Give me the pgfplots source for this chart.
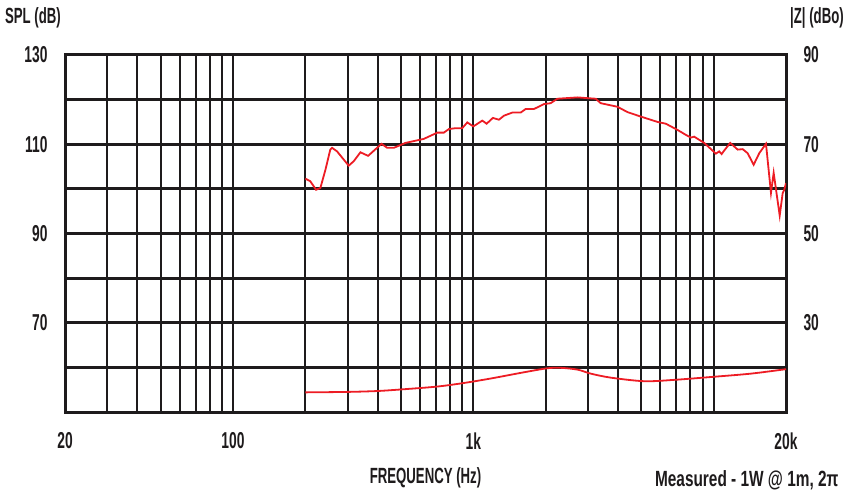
\documentclass[border=0pt]{standalone}
\usepackage{fontspec}
\setmainfont{Liberation Sans}[FakeStretch=0.6]
\usepackage{pgfplots}
\pgfplotsset{compat=1.18}
\definecolor{ink}{RGB}{30,27,28}
\definecolor{curve}{RGB}{237,28,36}
\begin{document}
\fontsize{22bp}{26bp}\selectfont\bfseries
\begin{tikzpicture}
\path[use as bounding box] (-65bp,-79bp) rectangle (783bp,412bp);
\begin{axis}[
  at={(0,0)}, anchor=south west,
  scale only axis, width=721bp, height=357bp,
  xmode=log, xmin=20, xmax=20000, ymin=50, ymax=130,
  log basis x=10,
  xtick={20,100,1000,20000},
  xticklabels={20,100,1k,20k},
  minor xtick={30,40,50,60,70,80,90,300,400,500,600,700,800,900,3000,4000,5000,6000,7000,8000,9000,10000},
  extra x ticks={200,2000},
  extra x tick labels={},
  extra x tick style={grid=major, major grid style={line width=2.8bp, ink}},
  ytick={70,90,110,130},
  minor ytick={60,80,100,120},
  grid=both,
  major x grid style={line width=2bp, ink},
  minor x grid style={line width=2bp, ink},
  major y grid style={line width=3bp, ink},
  minor y grid style={line width=3bp, ink},
  major tick length=0pt, minor tick length=0pt,
  axis line style={line width=3bp, ink},
  tick label style={font=\fontsize{23bp}{27bp}\selectfont\bfseries, text=ink},
  /pgf/number format/assume math mode=true,
  xticklabel style={yshift=-13bp},
  yticklabel style={xshift=-10bp},
  xlabel={FREQUENCY (Hz)},
  xlabel style={font=\fontsize{22bp}{26bp}\selectfont\bfseries, text=ink, yshift=-3bp},
  clip mode=individual,
]
\addplot[curve, line width=1.8bp] coordinates {
(200,102.3) (209.8,101.7) (221.6,99.8) (231,100.2) (242.5,104.3) (254,108.8) (258.4,109.2)
(271,108.4) (303,105.2) (318,106.2) (339,108.2) (365,107.4)
(415,110.1) (438,109.2) (467,109.2) (522,110.3) (622,111.2) (708,112.6)
(754,112.6) (791,113.4) (843,113.6) (899,113.6) (944,114.9) (1000,114.0)
(1090,115.3) (1136,114.6) (1206,115.9) (1278,115.5) (1341,116.4) (1453,117.1)
(1574,117.1) (1651,117.9) (1788,117.9) (1968,119.0) (2098,119.2) (2238,120.2)
(2712,120.5) (3231,120.2) (3390,119.2) (3978,118.4) (4380,117.2) (4976,116.2)
(5842,115.0) (6325,114.6) (7078,113.2) (7662,112.1) (8039,111.5) (8297,111.7)
(9132,110.3) (10214,107.9) (10545,108.4) (10790,107.8) (11066,108.6) (11718,110.3)
(12585,108.8) (13200,108.9) (13848,108.0) (14668,105.4) (15480,108.0) (16510,110.1)
(17320,99.1) (17770,103.6) (18830,94.0) (19380,99.1) (19670,99.8) (20000,101.3)
};
\addplot[curve, line width=1.8bp, smooth] coordinates {
(200,54.4) (298,54.5) (398,54.7) (514,55.1) (708,55.7) (913,56.5) (1180,57.5)
(1624,58.9) (2033,59.8) (2310,59.9) (2712,59.5) (3080,58.6) (3731,57.7)
(5137,56.9) (6847,57.2) (10050,57.9) (14300,58.6) (20000,59.6)
};
\node[text=ink, anchor=center] at (rel axis cs:0,1) [xshift=-32bp, yshift=37bp] {SPL (dB)};
\node[text=ink, anchor=center] at (rel axis cs:1,1) [xshift=31bp, yshift=37bp] {|Z| (dBo)};
\node[text=ink, anchor=east, font=\addfontfeatures{FakeStretch=0.7}] at (rel axis cs:1,0) [xshift=60bp, yshift=-68bp] {Measured - 1W @ 1m, 2π};
\end{axis}
\begin{axis}[
  at={(0,0)}, anchor=south west,
  scale only axis, width=721bp, height=357bp,
  xmode=log, xmin=20, xmax=20000, ymin=10, ymax=90,
  hide x axis,
  axis y line*=right,
  axis line style={draw=none},
  ytick={30,50,70,90},
  major tick length=0pt,
  tick label style={font=\fontsize{23bp}{27bp}\selectfont\bfseries, text=ink},
  /pgf/number format/assume math mode=true,
  yticklabel style={xshift=10bp},
]
\addplot[draw=none] coordinates {(100,50)};
\end{axis}
\end{tikzpicture}
\end{document}
